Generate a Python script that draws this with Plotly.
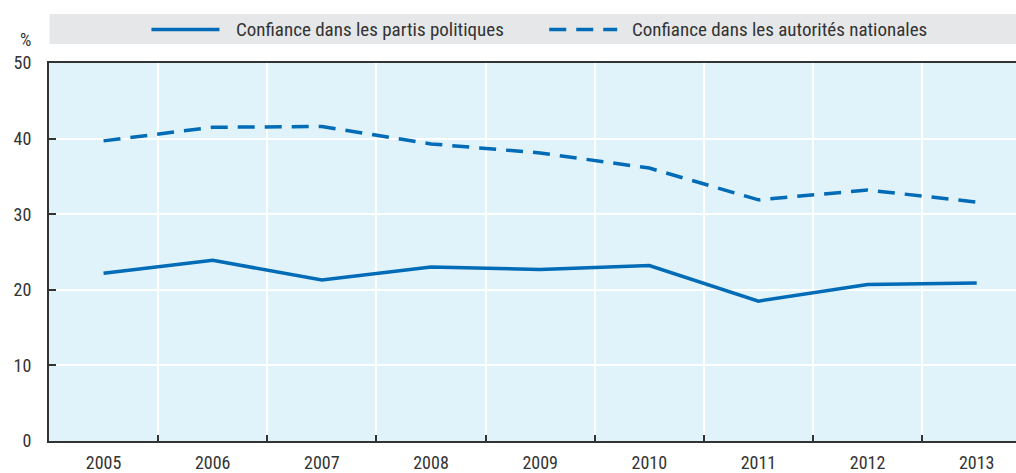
import plotly.graph_objects as go

years = ["2005", "2006", "2007", "2008", "2009", "2010", "2011", "2012", "2013"]
partis = [22.2, 23.9, 21.3, 23.0, 22.7, 23.2, 18.5, 20.7, 20.9]
autorites = [39.7, 41.5, 41.6, 39.3, 38.1, 36.1, 31.9, 33.2, 31.6]
series_names = ["Confiance dans les partis politiques", "Confiance dans les autorités nationales"]
y_ticks = [0, 10, 20, 30, 40, 50]

BLUE = "#006bb6"
FONT = "Liberation Sans Narrow, Arial Narrow, Roboto Condensed, Liberation Sans, sans-serif"
TXT = "#333333"

fig = go.Figure()
fig.add_trace(go.Scatter(x=years, y=partis, mode="lines", name=series_names[0],
                         line=dict(color=BLUE, width=3.5), showlegend=False))
fig.add_trace(go.Scatter(x=years, y=autorites, mode="lines", name=series_names[1],
                         line=dict(color=BLUE, width=3.5, dash="17px,10px"), showlegend=False))

W, H = 1024, 473   # slightly wider than the 1016 window; the overflow is hidden
L, T, B = 48.5, 63, 32

def px(x):
    return (x - L) / (W - L)

def py(y):
    return (H - B - y) / (H - T - B)

shapes = [
    dict(type="rect", xref="paper", yref="paper", x0=px(49), x1=1, y0=py(44), y1=py(14),
         fillcolor="#e6e7e8", line=dict(width=0), layer="below"),
    dict(type="line", xref="paper", yref="paper", x0=px(151), x1=px(219), y0=py(29.5), y1=py(29.5),
         line=dict(color=BLUE, width=3.5)),
    dict(type="line", xref="paper", yref="paper", x0=px(549), x1=px(617), y0=py(29.5), y1=py(29.5),
         line=dict(color=BLUE, width=3.5, dash="17px,10px")),
]
annotations = [
    dict(xref="paper", yref="paper", x=px(234), y=py(29.5), text=series_names[0], showarrow=False,
         xanchor="left", yanchor="middle", font=dict(family=FONT, size=19, color=TXT)),
    dict(xref="paper", yref="paper", x=px(630), y=py(29.5), text=series_names[1], showarrow=False,
         xanchor="left", yanchor="middle", font=dict(family=FONT, size=19, color=TXT)),
    dict(xref="paper", yref="paper", x=px(32), y=py(40), text="%", showarrow=False,
         xanchor="right", yanchor="middle", font=dict(family=FONT, size=18, color=TXT)),
]

cat_w = 109.2
x_end = -0.5 + (W - L) / cat_w

fig.update_layout(
    width=W, height=H,
    margin=dict(l=L, r=0, t=T, b=B),
    paper_bgcolor="white",
    plot_bgcolor="#e0f2fa",
    font=dict(family=FONT, size=18, color=TXT),
    shapes=shapes,
    annotations=annotations,
    xaxis=dict(type="category", categoryorder="array", categoryarray=years,
               range=[-0.5, x_end], tickson="boundaries",
               showgrid=True, gridcolor="white", gridwidth=1.5,
               ticks="inside", ticklen=6, tickcolor=TXT, tickwidth=1.5,
               showline=True, linecolor=TXT, linewidth=2, mirror=True,
               ticklabelstandoff=4, tickfont=dict(size=18)),
    yaxis=dict(range=[0, 50], tickvals=y_ticks, showgrid=True, gridcolor="white", gridwidth=1.5,
               ticks="inside", ticklen=7, tickcolor=TXT, tickwidth=1.5,
               showline=True, linecolor=TXT, linewidth=2, zeroline=False,
               ticklabelstandoff=12, tickfont=dict(size=18)),
)

fig.write_html("out.html", config={"displayModeBar": False},
               post_script="document.body.style.margin='0';document.body.style.overflow='hidden';document.documentElement.style.overflow='hidden';")
